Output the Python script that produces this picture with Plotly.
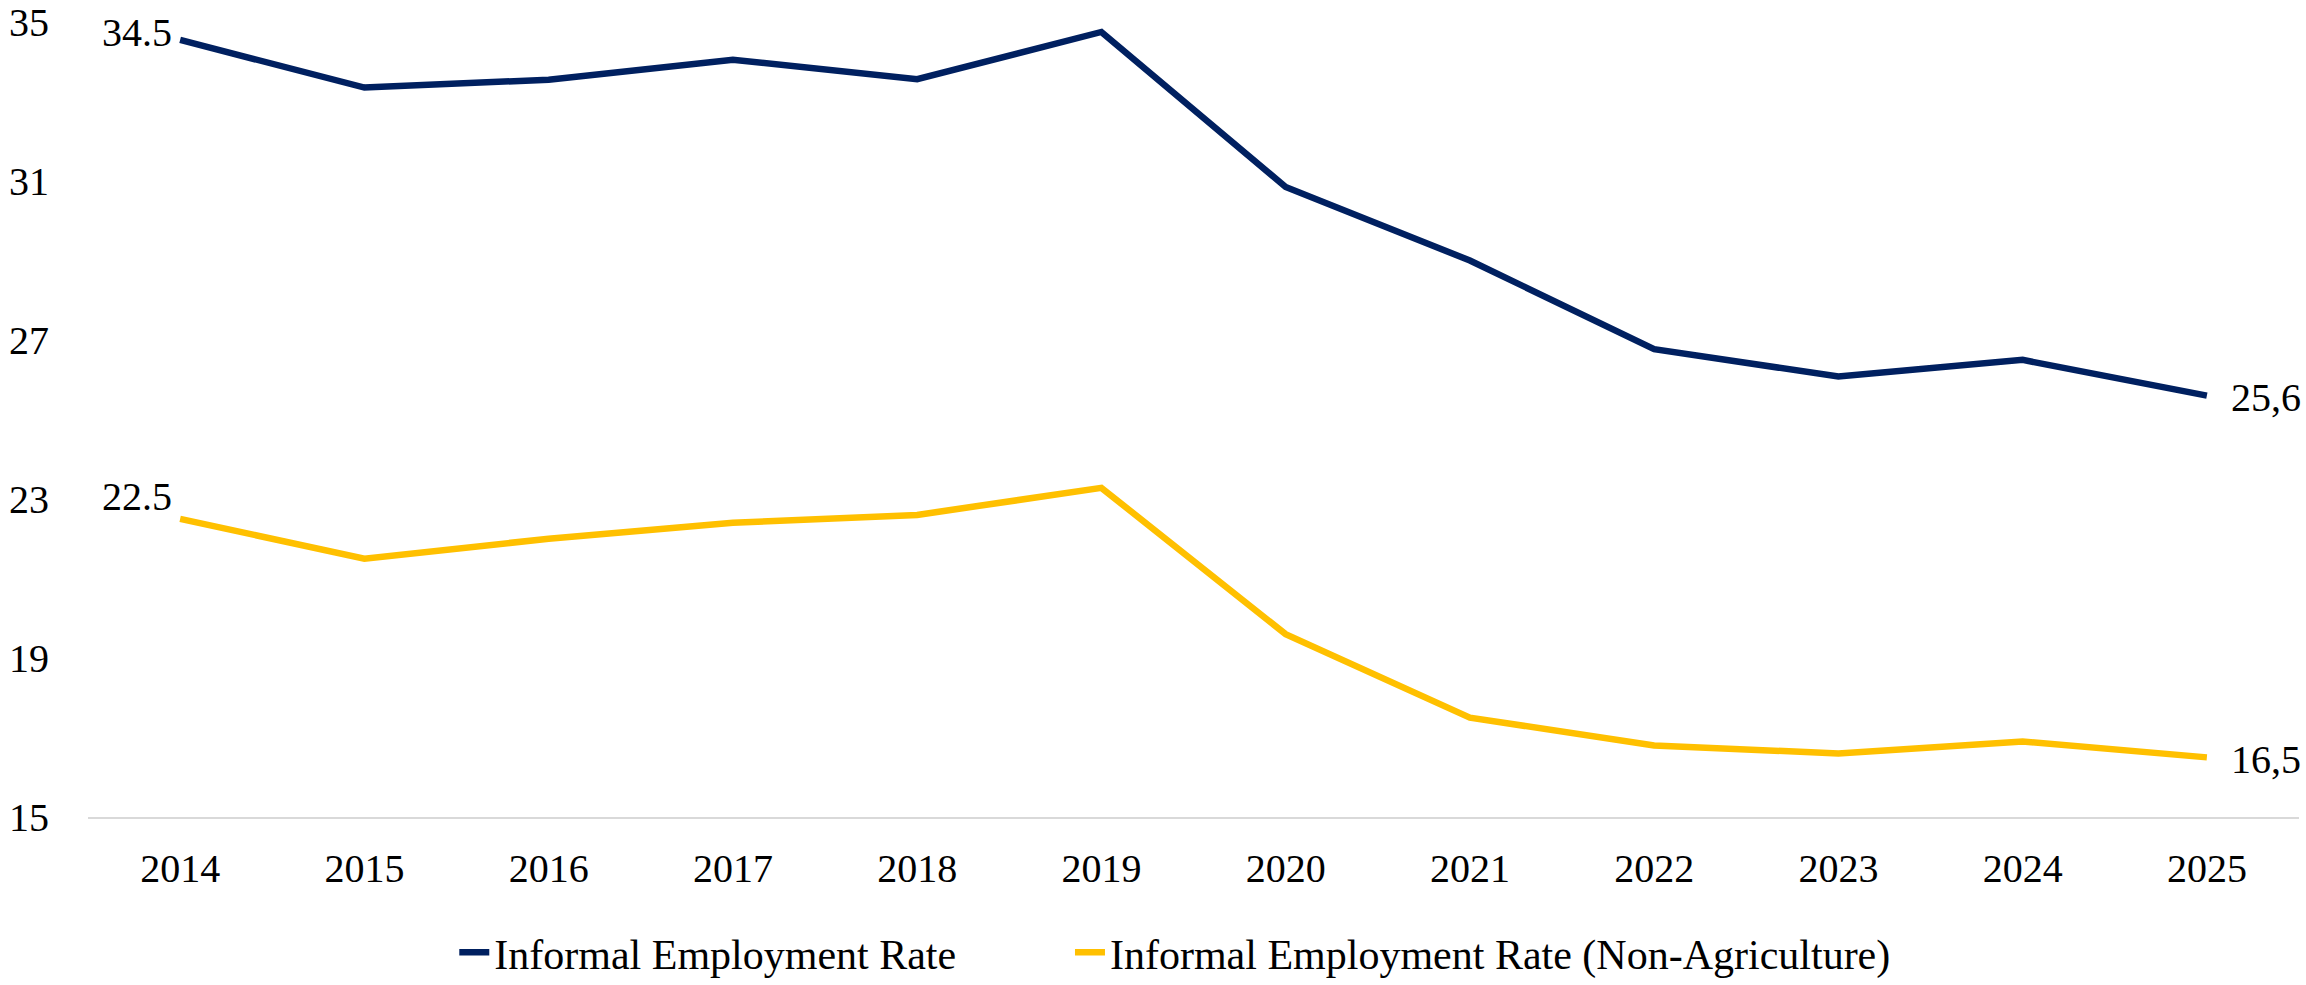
import plotly.graph_objects as go

years = ["2014", "2015", "2016", "2017", "2018", "2019", "2020", "2021", "2022", "2023", "2024", "2025"]
informal_rate = [34.55, 33.35, 33.55, 34.05, 33.56, 34.75, 30.85, 29.0, 26.77, 26.08, 26.5, 25.6]
informal_nonagri = [22.5, 21.5, 22.0, 22.4, 22.6, 23.28, 19.6, 17.5, 16.8, 16.6, 16.9, 16.5]
series_names = ["Informal Employment Rate", "Informal Employment Rate (Non-Agriculture)"]
first_labels = ["34.5", "22.5"]
last_labels = ["25,6", "16,5"]
y_ticks = [15, 19, 23, 27, 31, 35]

NAVY = "#002060"
GOLD = "#FFC000"
FONT = "Liberation Serif"
FS = 40

fig = go.Figure()
fig.add_trace(go.Scatter(x=years, y=informal_rate, mode="lines", name=series_names[0],
                         line=dict(color=NAVY, width=6.5), legend="legend"))
fig.add_trace(go.Scatter(x=years, y=informal_nonagri, mode="lines", name=series_names[1],
                         line=dict(color=GOLD, width=6.5), legend="legend2"))

# end labels (x given as category index)
last_i = len(years) - 1
for vals, fl, ll, ysh in [(informal_rate, first_labels[0], last_labels[0], 7),
                          (informal_nonagri, first_labels[1], last_labels[1], 22)]:
    fig.add_annotation(x=0, y=vals[0], xref="x", yref="y", text=fl, showarrow=False,
                       xanchor="right", yanchor="middle", xshift=-6, yshift=ysh,
                       font=dict(family=FONT, size=FS, color="#000000"))
    fig.add_annotation(x=last_i, y=vals[-1], xref="x", yref="y", text=ll, showarrow=False,
                       xanchor="left", yanchor="middle", xshift=22, yshift=-2,
                       font=dict(family=FONT, size=FS, color="#000000"))

leg_common = dict(orientation="h", xref="container", yref="container",
                  y=0.033, yanchor="middle", xanchor="left",
                  font=dict(family=FONT, size=42, color="#000000"),
                  bgcolor="rgba(0,0,0,0)")
fig.update_layout(
    width=2306, height=985,
    margin=dict(l=88, r=7, t=22, b=168, autoexpand=False),
    paper_bgcolor="white", plot_bgcolor="white",
    font=dict(family=FONT, size=FS, color="#000000"),
    showlegend=True,
    legend=dict(x=0.197, **leg_common),
    legend2=dict(x=0.464, **leg_common),
)
fig.update_xaxes(type="category", range=[-0.5, 11.5], showgrid=False, zeroline=False,
                 showline=True, linecolor="#d9d9d9", linewidth=2, ticks="",
                 ticklabelstandoff=15,
                 tickfont=dict(family=FONT, size=FS, color="#000000"))
fig.update_yaxes(range=[15, 35], tickvals=y_ticks, showgrid=False, zeroline=False,
                 showline=False, ticks="", ticklabelstandoff=38, ticklabeloverflow="allow",
                 tickfont=dict(family=FONT, size=FS, color="#000000"))

fig.write_html(
    "out.html",
    config={"displayModeBar": False},
    post_script="document.body.style.margin='0';document.body.style.overflow='hidden';",
)
